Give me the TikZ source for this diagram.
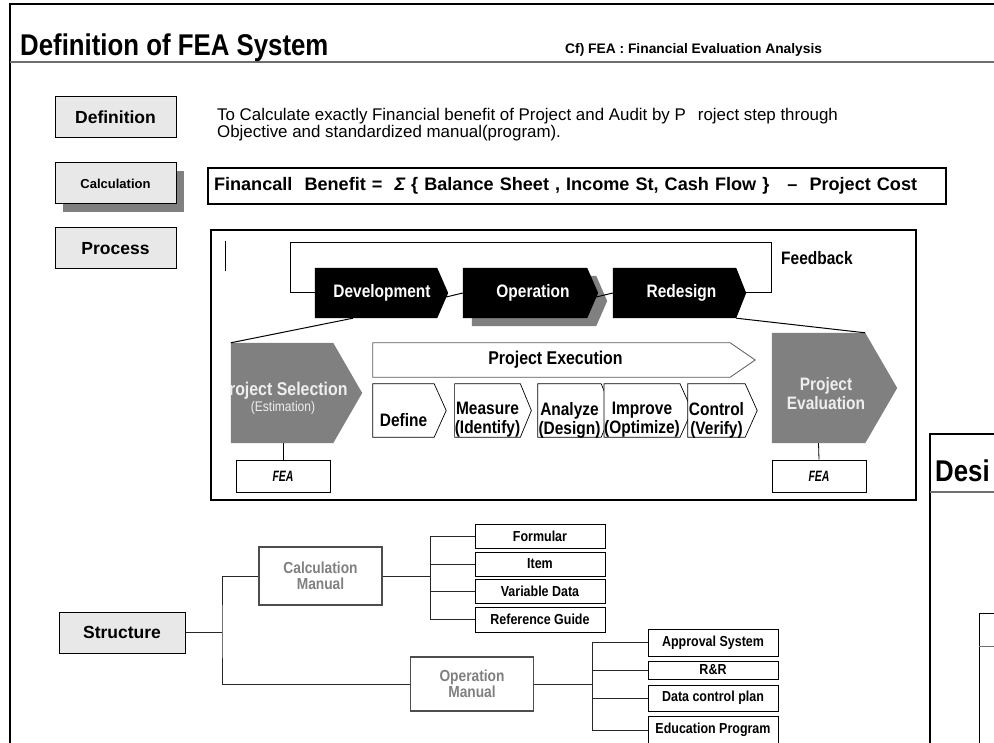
\documentclass[tikz,border=0pt]{standalone}
\usepackage{fontspec}
\setmainfont{Liberation Sans}[FakeStretch=0.86]
\newfontfamily\labelfont{Liberation Sans}
\newfontfamily\narrowfont{Liberation Sans}[FakeStretch=0.7]
\usetikzlibrary{shadows}

\definecolor{labelfill}{RGB}{232,232,232}
\definecolor{shadowgray}{RGB}{128,128,128}
\definecolor{stepgray}{RGB}{128,128,128}
\definecolor{manualtext}{RGB}{128,128,128}
\definecolor{manualedge}{RGB}{77,77,77}
\definecolor{rulegray}{RGB}{110,110,110}
\definecolor{paletext}{RGB}{238,238,238}
\definecolor{edgegray}{RGB}{90,90,90}

\pgfdeclarelayer{back}
\pgfsetlayers{back,main}

% pentagon arrow drawn behind the rectangle of a node:
% [vertical offset], node, tip depth, path options
\newcommand\chevfill[4][0pt]{%
  \begin{pgfonlayer}{back}
    \path[#4] ([yshift=#1]#2.north west) -- ([yshift=#1]#2.north east) -- ([xshift=#3,yshift=#1]#2.east)
      -- ([yshift=#1]#2.south east) -- ([yshift=#1]#2.south west) -- cycle;
  \end{pgfonlayer}}
% same outline, offset down and right, for a flat shadow
\newcommand\chevshadow[3]{%
  \begin{pgfonlayer}{back}
    \path[#3] ([xshift=9pt,yshift=-8pt]#1.north west) -- ([xshift=9pt,yshift=-8pt]#1.north east)
      -- ([xshift=9pt+#2,yshift=-8pt]#1.east) -- ([xshift=9pt,yshift=-8pt]#1.south east)
      -- ([xshift=9pt,yshift=-8pt]#1.south west) -- cycle;
  \end{pgfonlayer}}

\tikzset{
  labelbox/.style={draw=black, line width=1pt, fill=labelfill, minimum width=121pt,
    minimum height=41pt, inner sep=0pt, font=\labelfont\bfseries\fontsize{17.5}{20}\selectfont},
  chevtxt/.style={inner sep=0pt, minimum height=50pt, text=white,
    font=\bfseries\fontsize{18}{20}\selectfont},
  steptxt/.style={inner sep=0pt, minimum height=53pt, align=center,
    font=\bfseries\fontsize{18}{19}\selectfont},
  itembox/.style={draw=black, line width=0.8pt, fill=white, minimum width=130pt,
    inner sep=0pt, font=\bfseries\fontsize{14.5}{16}\selectfont},
  manualbox/.style={draw=manualedge, line width=1.2pt, fill=white, minimum width=123pt,
    inner sep=0pt, align=center, text=manualtext, font=\bfseries\fontsize{16}{16}\selectfont},
  feabox/.style={draw=black, line width=0.8pt, fill=white, minimum width=94pt,
    minimum height=32pt, inner sep=0pt, font=\narrowfont\bfseries\itshape\fontsize{15}{18}\selectfont},
  treeline/.style={draw=black!85, line width=1pt},
  thinline/.style={draw=black, line width=1pt},
}

\begin{document}
\begin{tikzpicture}[x=1pt, y=-1pt, line join=miter]
\useasboundingbox (0,0) rectangle (994,743);
\begin{pgfonlayer}{back}
  \fill[white] (0,0) rectangle (994,743);
\end{pgfonlayer}
\clip (0,0) rectangle (994,743);

% page frame and header
\draw[line width=2pt] (10,745) -- (10,4) -- (996,4);
\draw[rulegray, line width=2pt] (10,62) -- (996,62);
\node[anchor=base west, inner sep=0pt, font=\bfseries\fontsize{30}{30}\selectfont] (title) at (20,56) {Definition of FEA System};
\node[anchor=base west, inner sep=0pt, font=\labelfont\bfseries\fontsize{13.8}{14}\selectfont] (cfnote) at (565,54) {Cf) FEA : Financial Evaluation Analysis};

% definition
\node[labelbox] (defn) at (115.5,117.5) {Definition};
\node[anchor=north west, align=left, inner sep=0pt, font=\labelfont\fontsize{16.9}{17}\selectfont] (deftext) at (217,108)
  {To Calculate exactly Financial benefit of Project and Audit by P\hspace{12pt}roject step through\\Objective and standardized manual(program).};

% calculation
\node[labelbox, font=\labelfont\bfseries\fontsize{13}{16}\selectfont,
  drop shadow={shadow xshift=8pt, shadow yshift=-8pt, fill=shadowgray, opacity=1}] (calcl) at (115.5,183.5) {Calculation};
\node[draw=black, line width=2pt, anchor=west, text width=726pt, align=left, inner xsep=6pt,
  minimum height=36pt, font=\labelfont\bfseries\fontsize{18.1}{20}\selectfont] (formula) at (207,186)
  {Financall\ \ Benefit =\ \ {\itshape Σ} \{ Balance Sheet , Income St, Cash Flow \}\ \ \ –\ \ Project Cost};

% process
\node[labelbox] (proc) at (115.5,248.5) {Process};
\node[draw=black, line width=2pt, minimum width=705pt, minimum height=270pt, inner sep=0pt] (pframe) at (563.5,365) {};
\draw[line width=1pt] (225,241) -- (225,271);

% life cycle
\node[chevtxt, minimum width=122pt] (dev) at (376,293) {\hspace*{12pt}Development};
\node[chevtxt, minimum width=124pt] (op) at (525,293) {\hspace*{16pt}Operation};
\node[chevtxt, minimum width=123pt] (red) at (674.5,293) {\hspace*{14pt}Redesign};
\chevfill{dev}{11pt}{fill=black}
\chevshadow{op}{11pt}{fill=shadowgray}
\chevfill{op}{11pt}{fill=black}
\chevfill{red}{10pt}{fill=black}
\coordinate (fbl) at (290,243);
\coordinate (fbr) at (771,293);
\draw[thinline] (dev.west) -| (fbl) -| (fbr) -- ([xshift=10pt]red.east);
\draw[thinline] ([xshift=9pt,yshift=-4pt]dev.east) -- (op.west);
\draw[thinline] ([xshift=9pt,yshift=-4pt]op.east) -- (red.west);
\node[anchor=west, inner sep=0pt, font=\bfseries\fontsize{18}{20}\selectfont] (fbtext) at (781,258) {Feedback};

% project selection
\node[inner sep=0pt, minimum width=102pt, minimum height=100pt] (psel) at (282,393) {};
\chevfill{psel}{29pt}{fill=stepgray}
\begin{scope}
  \clip (psel.north west) rectangle ([xshift=29pt]psel.south east);
  \node[align=center, inner sep=0pt, text=paletext] (pseltxt) at (283,398)
    {\bfseries\fontsize{18.5}{19}\selectfont Project Selection\\[1pt]\mdseries\fontsize{14}{15}\selectfont (Estimation)};
\end{scope}
\node[feabox] (fea1) at (283,476) {FEA};
\draw[thinline, line width=0.8pt] ([xshift=1pt]psel.south) -- (fea1.north);

% project evaluation
\node[inner sep=0pt, minimum width=93pt, minimum height=110pt] (peval) at (818.5,388) {};
\chevfill{peval}{32pt}{fill=stepgray}
\node[align=center, inner sep=0pt, text=paletext, font=\bfseries\fontsize{18}{19}\selectfont] (pevaltxt) at (826,394) {Project\\Evaluation};
\node[feabox] (fea2) at (819,476) {FEA};
\draw[thinline, line width=0.8pt] (peval.south) -- (fea2.north);

% zoom lines from the life cycle to the project steps
\draw[thinline] ([xshift=-23pt]dev.south) -- (psel.north west);
\draw[thinline] (red.south east) -- (peval.north east);

% project execution
\node[inner sep=0pt, minimum width=357pt, minimum height=34pt, font=\bfseries\fontsize{18.5}{20}\selectfont] (pexec) at (551.5,360) {\hspace*{8pt}Project Execution};
\chevfill{pexec}{25pt}{draw=edgegray, line width=0.8pt, fill=white}

% five steps, text sitting low in each arrow
\node[steptxt, minimum width=61pt] (sdef) at (403.5,420) {Define};
\node[steptxt, minimum width=63pt] (smea) at (487.5,420) {Measure\\(Identify)};
\node[steptxt, minimum width=63pt] (sana) at (569.5,420) {Analyze\\(Design)};
\node[steptxt, minimum width=58pt] (simp) at (642,420) {Improve\\(Optimize)};
\node[steptxt, minimum width=57pt] (sctl) at (716.5,420) {Control\\(Verify)};
\chevfill[9.5pt]{sdef}{12pt}{draw=black, line width=0.7pt, fill=white}
\chevfill[9.5pt]{smea}{11pt}{draw=black, line width=0.7pt, fill=white}
\chevfill[9.5pt]{sana}{11pt}{draw=black, line width=0.7pt, fill=white}
\chevfill[9.5pt]{simp}{12pt}{draw=black, line width=0.7pt, fill=white}
\chevfill[9.5pt]{sctl}{12pt}{draw=black, line width=0.7pt, fill=white}

% structure tree
\node[labelbox, minimum width=126pt] (struct) at (122,632.5) {Structure};
\node[manualbox, minimum height=58pt] (calcm) at (320.5,576) {Calculation\\Manual};
\node[manualbox, minimum height=54pt] (opm) at (472,684) {Operation\\Manual};
\coordinate (sj) at (222,632.5);
\draw[treeline] (struct.east) -- (sj);
\draw[treeline] (calcm.west) -| (sj) |- (opm.west);

\node[itembox, minimum height=24pt] (formular) at (540,536) {Formular};
\node[itembox, minimum height=24pt] (item) at (540,564) {Item};
\node[itembox, minimum height=24pt] (vardata) at (540,591) {Variable Data};
\node[itembox, minimum height=25pt] (refguide) at (540,619.5) {Reference Guide};
\coordinate (cj) at (430,576);
\draw[treeline] (calcm.east) -- (cj);
\draw[treeline] (formular.west) -| (cj |- refguide.west) -- (refguide.west);
\draw[treeline] (item.west) -- (item.west -| cj);
\draw[treeline] (vardata.west) -- (vardata.west -| cj);

\node[itembox, minimum height=27pt] (approval) at (713,642.5) {Approval System};
\node[itembox, minimum height=18pt] (rr) at (713,670) {R\&R};
\node[itembox, minimum height=26pt] (datactl) at (713,698) {Data control plan};
\node[itembox, minimum height=28pt] (edu) at (713,730) {Education Program};
\coordinate (oj) at (592,684);
\draw[treeline] (opm.east) -- (oj);
\draw[treeline] (approval.west) -| (oj |- edu.west) -- (edu.west);
\draw[treeline] (rr.west) -- (rr.west -| oj);
\draw[treeline] (datactl.west) -- (datactl.west -| oj);

% next panel, cut by the page edge
\draw[line width=1.5pt] (930,745) -- (930,434) -- (996,434);
\draw[rulegray, line width=1.5pt] (930,492) -- (996,492);
\node[anchor=base west, inner sep=0pt, font=\bfseries\fontsize{30}{30}\selectfont] (desi) at (935,481) {Desi};
\draw[line width=1pt] (979,745) -- (979,613) -- (996,613);
\draw[rulegray, line width=1pt] (979,646) -- (996,646);
\end{tikzpicture}
\end{document}
